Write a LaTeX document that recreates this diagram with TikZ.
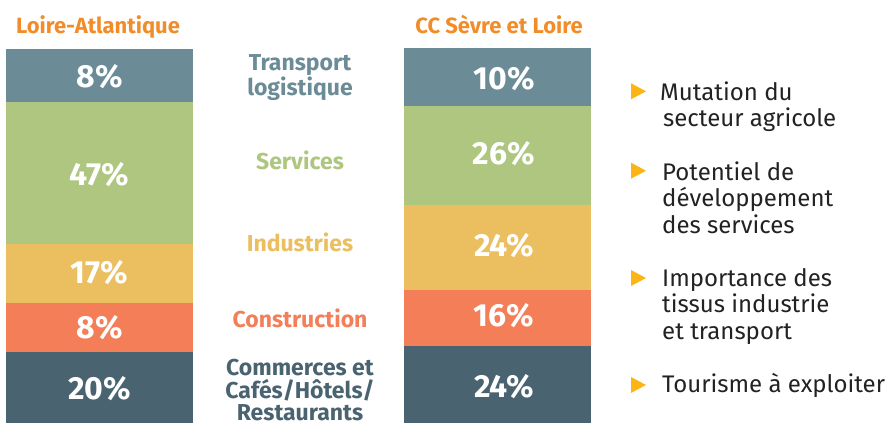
\documentclass[tikz,border=0pt]{standalone}
\usepackage{fontspec}
\setmainfont{Fira Sans}
\definecolor{cTrans}{HTML}{6B8C97}
\definecolor{cServ}{HTML}{AEC680}
\definecolor{cInd}{HTML}{EBBE60}
\definecolor{cCons}{HTML}{F37E58}
\definecolor{cComm}{HTML}{4A6370}
\definecolor{cTitle}{HTML}{F28C28}
\definecolor{cBullet}{HTML}{FDB515}
\definecolor{cText}{HTML}{222222}
\begin{document}
\begin{tikzpicture}[x=1pt,y=-1pt,
  seg/.style={anchor=north west, inner sep=0pt, outer sep=0pt, minimum width=187pt},
  pct/.style={anchor=base, inner sep=0pt, text=white, font=\bfseries\fontsize{32}{32}\selectfont},
  cat/.style={anchor=base, inner sep=0pt, align=center, font=\bfseries\fontsize{23}{23}\selectfont},
  ttl/.style={anchor=base, inner sep=0pt, text=cTitle, font=\bfseries\fontsize{22}{22}\selectfont},
  bul/.style={anchor=base west, inner sep=0pt, align=left, text=cText, font=\fontsize{24}{26.5}\selectfont},
  tri/.style={fill=cBullet}
]
\useasboundingbox (0,0) rectangle (887,423);

% titles
\node[ttl] (tl) at (98,33.3) {Loire-Atlantique};
\node[ttl] (tr) at (499,33.3) {CC Sèvre et Loire};

% left bar
\node[seg, fill=cTrans, minimum height=53pt]    (l1) at (6,49) {};
\node[seg, fill=cServ,  minimum height=141.5pt] (l2) at (6,102) {};
\node[seg, fill=cInd,   minimum height=59.5pt]  (l3) at (6,243.5) {};
\node[seg, fill=cCons,  minimum height=49pt]    (l4) at (6,303) {};
\node[seg, fill=cComm,  minimum height=71pt]    (l5) at (6,352) {};

\node[pct] (pl1) at (99.5,87.3) {8\%};
\node[pct] (pl2) at (99.5,185) {47\%};
\node[pct] (pl3) at (99.5,283) {17\%};
\node[pct] (pl4) at (99.5,338.7) {8\%};
\node[pct] (pl5) at (99.5,399.3) {20\%};

% right bar
\node[seg, fill=cTrans, minimum height=58pt] (r1) at (404,48) {};
\node[seg, fill=cServ,  minimum height=99pt] (r2) at (404,106) {};
\node[seg, fill=cInd,   minimum height=85pt] (r3) at (404,205) {};
\node[seg, fill=cCons,  minimum height=56pt] (r4) at (404,290) {};
\node[seg, fill=cComm,  minimum height=77pt] (r5) at (404,346) {};

\node[pct] (pr1) at (504,89.3) {10\%};
\node[pct] (pr2) at (504,164) {26\%};
\node[pct] (pr3) at (504,256.7) {24\%};
\node[pct] (pr4) at (504,326.7) {16\%};
\node[pct] (pr5) at (504,397.3) {24\%};

% category labels (base anchor = baseline of last line)
\node[cat, text=cTrans] (c1) at (300,95.5) {Transport\\logistique};
\node[cat, text=cServ] (c2) at (300,169.3) {Services};
\node[cat, text=cInd]  (c3) at (300,251.7) {Industries};
\node[cat, text=cCons] (c4) at (300,327.3) {Construction};
\node[cat, text=cComm, font=\bfseries\fontsize{23}{22.6}\selectfont] (c5) at (300,420.9) {Commerces et\\Cafés/Hôtels/\\Restaurants};

% bullets
\coordinate (b1) at (631,91.3);
\coordinate (b2) at (631,170.7);
\coordinate (b3) at (631,278);
\coordinate (b4) at (631,385);
\foreach \b in {b1,b2,b3,b4}{
  \fill[tri] (\b) ++(0,-8) -- ++(15,8) -- ++(-15,8) -- cycle;
}
\node[bul] (t1) at (660,126.5) {Mutation du\\\hspace*{3pt}secteur agricole};
\node[bul] (t2) at (662,233) {Potentiel de\\développement\\des services};
\node[bul] (t3) at (662,339) {Importance des\\tissus industrie\\et transport};
\node[bul] (t4) at (662,392.7) {Tourisme à exploiter};
\end{tikzpicture}
\end{document}
